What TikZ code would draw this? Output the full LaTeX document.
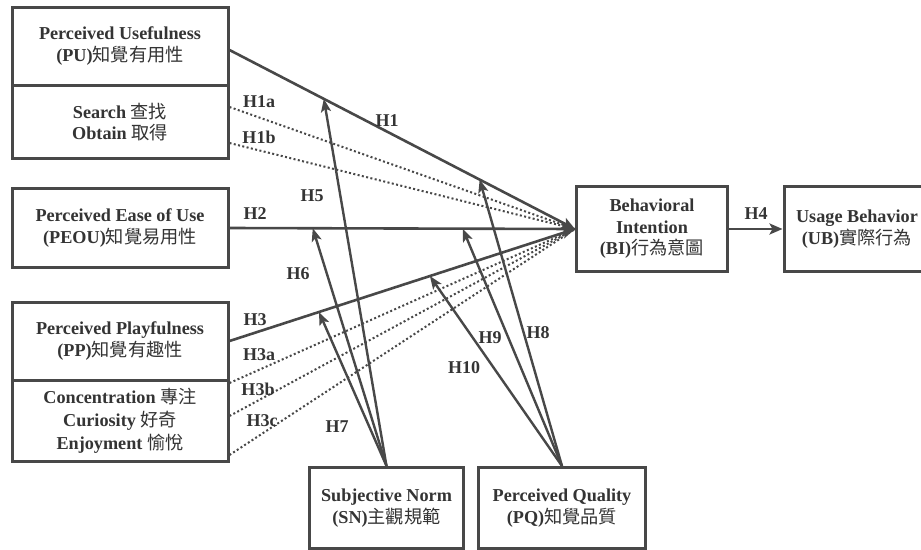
\documentclass[tikz,border=0pt]{standalone}
\usepackage{fontspec}
\setmainfont{Liberation Serif}
\newfontfamily\cjkfont{Noto Sans CJK TC}
\usetikzlibrary{arrows.meta,calc}
\definecolor{ink}{RGB}{72,72,72}
\definecolor{txt}{RGB}{52,52,52}
\newcommand\zh[1]{{\cjkfont\mdseries #1}}
\begin{document}
\begin{tikzpicture}[x=1pt,y=-1pt,
  box/.style={draw=ink, line width=3pt, text=txt, fill=white,
    font=\fontsize{18.2}{21.5}\selectfont\bfseries, align=center, inner sep=0pt},
  lab/.style={text=txt, font=\fontsize{18}{20}\selectfont\bfseries, inner sep=0pt},
  main/.style={draw=ink, line width=2.6pt, -{Stealth[length=13pt,width=11pt,inset=3pt]}},
  sub/.style={draw=ink, line width=2.4pt, -{Stealth[length=13pt,width=10pt,inset=3pt]}},
  dotln/.style={draw=ink, line width=2pt, dash pattern=on 2pt off 2.4pt}
]
\clip (0,0) rectangle (921,549);
\fill[white] (0,0) rectangle (921,549);

% boxes
\node[box, minimum width=216pt, minimum height=78pt] (PU) at (120,46)
  {Perceived Usefulness\\(PU)\zh{知覺有用性}};
\node[box, minimum width=216pt, minimum height=73pt] (SO) at (120,122)
  {Search \zh{查找}\\Obtain \zh{取得}};
\node[box, minimum width=216pt, minimum height=79pt] (PEOU) at (120,228)
  {Perceived Ease of Use\\(PEOU)\zh{知覺易用性}};
\node[box, minimum width=216pt, minimum height=78pt] (PP) at (120,341)
  {Perceived Playfulness\\(PP)\zh{知覺有趣性}};
\node[box, minimum width=216pt, minimum height=81pt, font=\fontsize{18.2}{23}\selectfont\bfseries] (CCE) at (120,421)
  {Concentration \zh{專注}\\Curiosity \zh{好奇}\\Enjoyment \zh{愉悅}};
\node[box, minimum width=154pt, minimum height=81pt] (SN) at (386.5,508)
  {Subjective Norm\\(SN)\zh{主觀規範}};
\node[box, minimum width=167pt, minimum height=81pt] (PQ) at (562,508)
  {Perceived Quality\\(PQ)\zh{知覺品質}};
\node[box, minimum width=151pt, minimum height=85pt] (BI) at (652,229)
  {Behavioral\\Intention\\(BI)\zh{行為意圖}};
\node[box, minimum width=146pt, minimum height=85pt] (UB) at (857,229)
  {Usage Behavior\\(UB)\zh{實際行為}};

% start points
\coordinate (s1) at ($(PU.east)+(0,4)$);
\coordinate (s1a) at ($(SO.east)+(0,-15)$);
\coordinate (s1b) at ($(SO.east)+(0,21)$);
\coordinate (s3a) at ($(CCE.east)+(0,-38)$);
\coordinate (s3b) at ($(CCE.east)+(0,-5)$);
\coordinate (s3c) at ($(CCE.east)+(0,34)$);

% dotted paths
\draw[dotln] (s1a) -- (BI.west);
\draw[dotln] (s1b) -- (BI.west);
\draw[dotln] (s3a) -- (BI.west);
\draw[dotln] (s3b) -- (BI.west);
\draw[dotln] (s3c) -- (BI.west);

% main paths
\draw[main] (s1) -- (BI.west);
\draw[main] (PEOU.east) -- (BI.west);
\draw[main] (PP.east) -- (BI.west);
\draw[main] (BI.east) -- (UB.west);

% moderator targets
\coordinate (t5) at ($(s1)!0.273!(BI.west)$);
\coordinate (t8) at ($(s1)!0.724!(BI.west)$);
\coordinate (t6) at ($(PEOU.east)!0.241!(BI.west)$);
\coordinate (t9) at ($(PEOU.east)!0.675!(BI.west)$);
\coordinate (t7) at ($(PP.east)!0.259!(BI.west)$);
\coordinate (t10) at ($(PP.east)!0.580!(BI.west)$);

\draw[sub] (SN.north) -- (t5);
\draw[sub] (SN.north) -- (t6);
\draw[sub] (SN.north) -- (t7);
\draw[sub] (PQ.north) -- (t8);
\draw[sub] (PQ.north) -- (t9);
\draw[sub] (PQ.north) -- (t10);

% labels
\node[lab] (lH1a) at (259,102) {H1a};
\node[lab] (lH1b) at (259,137) {H1b};
\node[lab] (lH1) at (387,121) {H1};
\node[lab] (lH5) at (312,196) {H5};
\node[lab] (lH2) at (255,214) {H2};
\node[lab] (lH6) at (298,274) {H6};
\node[lab] (lH3) at (255,320) {H3};
\node[lab] (lH3a) at (259,355) {H3a};
\node[lab] (lH3b) at (258,389) {H3b};
\node[lab] (lH3c) at (262,421) {H3c};
\node[lab] (lH7) at (337,427) {H7};
\node[lab] (lH8) at (538,333) {H8};
\node[lab] (lH9) at (490,338) {H9};
\node[lab] (lH10) at (464,368) {H10};
\node[lab] (lH4) at (756,214) {H4};
\end{tikzpicture}
\end{document}
